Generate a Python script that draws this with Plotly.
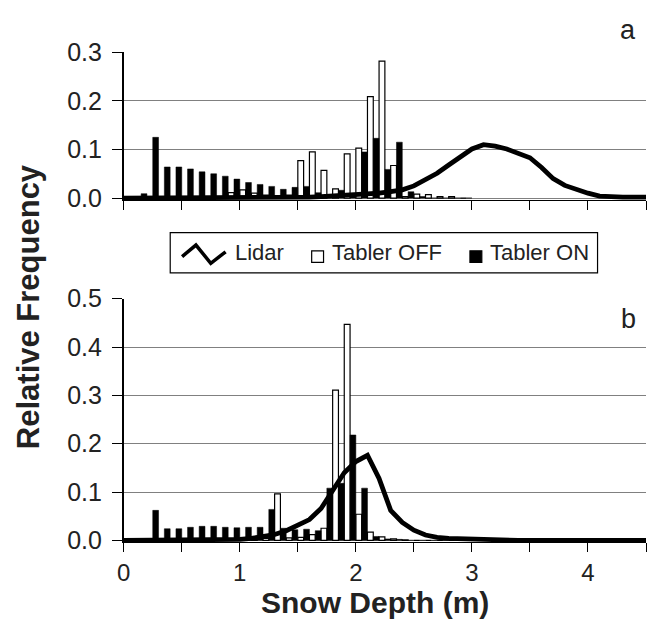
import plotly.graph_objects as go

# ---------------- data ----------------
bins = [0.05, 0.15, 0.25, 0.35, 0.45, 0.55, 0.65, 0.75, 0.85, 0.95,
        1.05, 1.15, 1.25, 1.35, 1.45, 1.55, 1.65, 1.75, 1.85, 1.95,
        2.05, 2.15, 2.25, 2.35, 2.45, 2.55, 2.65, 2.75, 2.85, 2.95]

off_a = [0, 0, 0, 0, 0, 0, 0, 0.002, 0.003, 0.011,
         0.017, 0.010, 0.006, 0.005, 0.006, 0.077, 0.095, 0.057, 0.019, 0.091,
         0.103, 0.209, 0.282, 0.067, 0.003, 0.008, 0.007, 0.003, 0.003, 0]
on_a = [0.002, 0.009, 0.125, 0.064, 0.064, 0.060, 0.054, 0.050, 0.045, 0.039,
        0.032, 0.028, 0.024, 0.018, 0.022, 0.024, 0.011, 0.007, 0.016, 0.008,
        0.095, 0.123, 0.059, 0.115, 0.013, 0.003, 0, 0, 0, 0]

off_b = [0, 0, 0, 0.002, 0.002, 0.002, 0.003, 0.003, 0.002, 0.002,
         0.002, 0.003, 0.004, 0.096, 0.005, 0.006, 0.012, 0.025, 0.311, 0.447,
         0.054, 0.017, 0.007, 0.003, 0.001, 0, 0, 0, 0, 0]
on_b = [0, 0, 0.062, 0.024, 0.024, 0.027, 0.029, 0.029, 0.027, 0.026,
        0.027, 0.027, 0.064, 0.025, 0.022, 0.023, 0.020, 0.108, 0.118, 0.218,
        0.108, 0.008, 0.003, 0.002, 0, 0, 0, 0, 0, 0]

lidar_x = [0.0, 0.1, 0.2, 0.3, 0.4, 0.5, 0.6, 0.7, 0.8, 0.9,
           1.0, 1.1, 1.2, 1.3, 1.4, 1.5, 1.6, 1.7, 1.8, 1.9,
           2.0, 2.1, 2.2, 2.3, 2.4, 2.5, 2.6, 2.7, 2.8, 2.9,
           3.0, 3.1, 3.2, 3.3, 3.4, 3.5, 3.6, 3.7, 3.8, 3.9,
           4.0, 4.1, 4.2, 4.3, 4.4, 4.5]
lidar_a = [0, 0, 0, 0, 0, 0, 0, 0, 0, 0,
           0, 0, 0, 0, 0, 0.001, 0.002, 0.003, 0.004, 0.005,
           0.006, 0.008, 0.010, 0.013, 0.017, 0.025, 0.037, 0.051, 0.068, 0.086,
           0.101, 0.110, 0.107, 0.101, 0.093, 0.083, 0.063, 0.040, 0.026, 0.017,
           0.010, 0.004, 0.002, 0.002, 0.002, 0.002]
lidar_b = [0, 0, 0, 0, 0, 0, 0, 0, 0, 0.001,
           0.002, 0.004, 0.007, 0.012, 0.020, 0.031, 0.043, 0.066, 0.105, 0.140,
           0.163, 0.176, 0.128, 0.062, 0.037, 0.021, 0.011, 0.006, 0.004, 0.003,
           0.003, 0.003, 0.001, 0, 0, 0, 0, 0, 0, 0,
           0, 0, 0, 0, 0, 0]

x_ticks = [0, 1, 2, 3, 4]
x_ticktext = ["0", "1", "2", "3", "4"]

# ---------------- figure ----------------
W, H = 648, 630
FONT = "Liberation Sans, Arial, sans-serif"
TXT = "#222222"


def px(x):
    return x / W


def py(y):
    return 1 - y / H


fig = go.Figure()

for (off, on, lid, xa, ya) in [(off_a, on_a, lidar_a, "x2", "y2"),
                               (off_b, on_b, lidar_b, "x", "y")]:
    fig.add_trace(go.Bar(x=bins, y=off, width=0.05, offset=-0.05,
                         marker=dict(color="white", line=dict(color="black", width=1.2)),
                         xaxis=xa, yaxis=ya, name="Tabler OFF", showlegend=False))
    fig.add_trace(go.Bar(x=bins, y=on, width=0.05, offset=0.0,
                         marker=dict(color="black", line=dict(color="black", width=0.5)),
                         xaxis=xa, yaxis=ya, name="Tabler ON", showlegend=False))
    fig.add_trace(go.Scatter(x=lidar_x, y=lid, mode="lines",
                             line=dict(color="black", width=4.8),
                             xaxis=xa, yaxis=ya, name="Lidar", showlegend=False))

xdom = [px(118), px(646)]
common_x = dict(range=[0, 4.5], showline=True, linecolor="black", linewidth=1.2,
                ticks="outside", ticklen=9, tickcolor="black", tickwidth=1.2,
                showgrid=False, zeroline=False,
                minor=dict(ticks="outside", ticklen=9, dtick=0.5, tick0=0,
                           tickcolor="black", tickwidth=1.2, showgrid=False))
common_y = dict(showline=True, linecolor="black", linewidth=1.6,
                ticks="outside", ticklen=10, tickcolor="black", tickwidth=1.2,
                showgrid=True, gridcolor="#808080", gridwidth=1.2, zeroline=False,
                tickformat=".1f", dtick=0.1, tick0=0, ticklabelstandoff=5,
                tickfont=dict(family=FONT, size=25, color=TXT))

fig.update_layout(
    width=W, height=H,
    margin=dict(l=0, r=0, t=0, b=0),
    paper_bgcolor="white", plot_bgcolor="white",
    barmode="overlay", showlegend=False,
    xaxis=dict(domain=xdom, anchor="y", tickvals=x_ticks, ticktext=x_ticktext,
               tickfont=dict(family=FONT, size=24, color=TXT), **common_x),
    yaxis=dict(domain=[py(551), py(297)], anchor="x", range=[-0.004, 0.5], **common_y),
    xaxis2=dict(domain=xdom, anchor="y2", matches="x", tickvals=x_ticks,
                showticklabels=False, **common_x),
    yaxis2=dict(domain=[py(194), py(40)], anchor="x2", range=[-0.004, 0.3], **common_y),
)


def label(x, y, text, size, angle=0, xanchor="center"):
    fig.add_annotation(x=px(x), y=py(y), xref="paper", yref="paper", text=text,
                       textangle=angle, showarrow=False, xanchor=xanchor, yanchor="middle",
                       font=dict(family=FONT, size=size, color=TXT))


# axis titles and panel letters
label(22, 305, "<b>Relative Frequency</b>", 31, angle=-90)
label(372, 614, "<b>Snow Depth (m)</b>", 30)
label(628, 17, "a", 27)
label(628, 318, "b", 27)

# custom legend
fig.add_shape(type="rect", xref="paper", yref="paper", x0=px(165), x1=px(597), y0=py(270), y1=py(228),
              line=dict(color="black", width=1.2), fillcolor="white")
fig.add_shape(type="path", xref="paper", yref="paper",
              path=f"M {px(177)} {py(253)} L {px(191)} {py(241)} L {px(206)} {py(260)} L {px(221)} {py(248)}",
              line=dict(color="black", width=3.5))
fig.add_shape(type="rect", xref="paper", yref="paper", x0=px(308), x1=px(320), y0=py(259), y1=py(247),
              line=dict(color="black", width=1.2), fillcolor="white")
fig.add_shape(type="rect", xref="paper", yref="paper", x0=px(468), x1=px(480), y0=py(259), y1=py(247),
              line=dict(color="black", width=1.2), fillcolor="black")
for txt, x0 in [("Lidar", 228), ("Tabler OFF", 327), ("Tabler ON", 486)]:
    label(x0, 249, txt, 22, xanchor="left")

fig.write_html("out.html")
